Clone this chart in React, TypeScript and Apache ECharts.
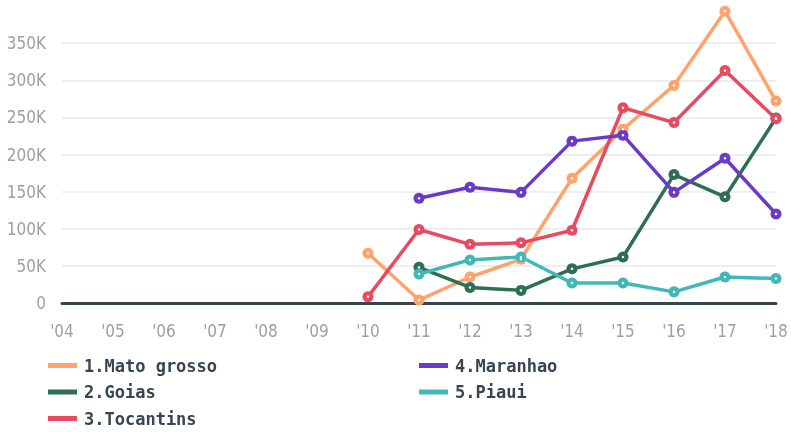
import React, { useEffect, useRef } from "react";
import * as echarts from "echarts";

const years = ["'04", "'05", "'06", "'07", "'08", "'09", "'10", "'11", "'12", "'13", "'14", "'15", "'16", "'17", "'18"];
const yTicks = ["0", "50K", "100K", "150K", "200K", "250K", "300K", "350K", ""];

const matoGrosso = [null, null, null, null, null, null, 67000, 4000, 35000, 59000, 168000, 234000, 293000, 393000, 272000];
const goias = [null, null, null, null, null, null, null, 48000, 21000, 17000, 46000, 62000, 173000, 143000, 249000];
const tocantins = [null, null, null, null, null, null, 8500, 99000, 79000, 81000, 98000, 263000, 243000, 313000, 248000];
const maranhao = [null, null, null, null, null, null, null, 141000, 156000, 149000, 218000, 226000, 149000, 195000, 120000];
const piaui = [null, null, null, null, null, null, null, 39000, 58000, 62000, 27000, 27000, 15000, 35000, 33000];

const names = ["1.Mato grosso", "2.Goias", "3.Tocantins", "4.Maranhao", "5.Piaui"];
const colors = ["#ffa36c", "#2d6e55", "#e84a5f", "#6a3bc8", "#3fb8b7"];
const seriesData = [matoGrosso, goias, tocantins, maranhao, piaui];

const axisFont = "'Liberation Sans Narrow', 'DejaVu Sans Condensed', 'Roboto', sans-serif";

export default function App() {
  const ref = useRef<HTMLDivElement>(null);
  useEffect(() => {
    if (!ref.current) return;
    const chart = echarts.init(ref.current, null, { renderer: "svg" });
    const legendCommon = {
      orient: "horizontal",
      top: 357,
      width: 40,
      padding: 0,
      icon: "rect",
      itemWidth: 29,
      itemHeight: 5,
      itemGap: 9.5,
      selectedMode: false,
      textStyle: {
        fontFamily: "DejaVu Sans Mono",
        fontWeight: "bold",
        fontSize: 17,
        lineHeight: 17,
        color: "#36454f",
        padding: [0, 0, 0, 2],
      },
    };
    const mainSeries = seriesData.map((d, i) => ({
      name: names[i],
      type: "line",
      data: d,
      symbol: "circle",
      symbolSize: 11,
      connectNulls: false,
      z: 2,
      lineStyle: { color: colors[i], width: 3.5 },
      itemStyle: { color: colors[i] },
    }));
    const dotSeries = seriesData.map((d, i) => ({
      name: names[i] + " ",
      type: "line",
      data: d,
      symbol: "circle",
      symbolSize: 2.5,
      silent: true,
      z: 3,
      lineStyle: { width: 0, opacity: 0 },
      itemStyle: { color: "#ffffff" },
    }));
    chart.setOption({
      animation: false,
      color: colors,
      grid: { left: 62, right: 15, top: 6, bottom: 129, containLabel: false },
      legend: [
        {
          ...legendCommon,
          left: 48,
          data: names.slice(0, 3).map((n, i) => ({ name: n, itemStyle: { color: colors[i], borderWidth: 0 } })),
        },
        {
          ...legendCommon,
          left: 419,
          data: names.slice(3).map((n, i) => ({ name: n, itemStyle: { color: colors[i + 3], borderWidth: 0 } })),
        },
      ],
      xAxis: {
        type: "category",
        data: years,
        boundaryGap: false,
        axisLine: { lineStyle: { color: "#36454f", width: 3 } },
        axisTick: { show: false },
        axisLabel: {
          fontFamily: axisFont,
          fontSize: 17,
          color: "#9aa0a4",
          margin: 19,
        },
      },
      yAxis: {
        type: "value",
        min: 0,
        max: 400000,
        interval: 50000,
        axisLine: { show: false },
        axisTick: { show: false },
        splitLine: {
          lineStyle: {
            color: ["#eeeeee", "#eeeeee", "#eeeeee", "#eeeeee", "#eeeeee", "#eeeeee", "#eeeeee", "#eeeeee", "rgba(0,0,0,0)"],
            width: 2,
          },
        },
        axisLabel: {
          fontFamily: axisFont,
          fontSize: 17,
          color: "#9aa0a4",
          margin: 16,
          formatter: (v: number) => yTicks[Math.round(v / 50000)] ?? "",
        },
      },
      series: [...mainSeries, ...dotSeries],
    });
    return () => chart.dispose();
  }, []);
  return <div ref={ref} style={{ position: "fixed", left: 0, top: 0, width: 791, height: 432 }} />;
}
